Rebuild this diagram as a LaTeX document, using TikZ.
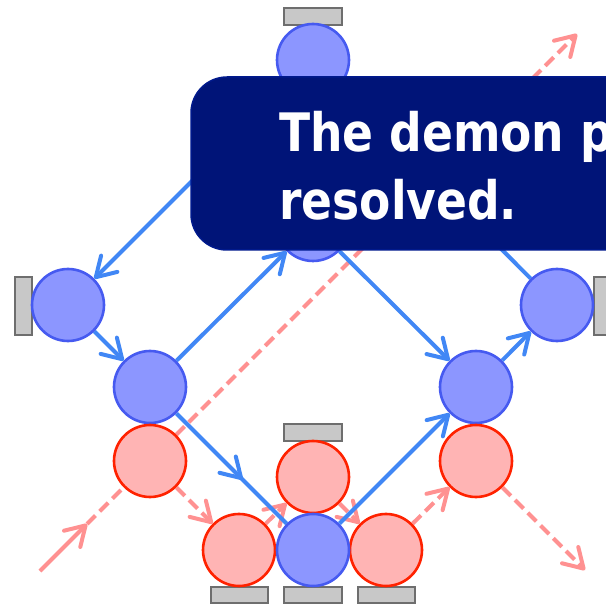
\documentclass[tikz,border=0pt]{standalone}
\usepackage{fontspec}
\newfontfamily\calloutfont{DejaVu Sans}[FakeStretch=0.86]
\usetikzlibrary{arrows.meta,decorations.markings,backgrounds}
\definecolor{bluefill}{RGB}{140,150,255}
\definecolor{blueborder}{RGB}{70,90,240}
\definecolor{blueline}{RGB}{65,135,245}
\definecolor{redfill}{RGB}{255,180,180}
\definecolor{redborder}{RGB}{255,34,0}
\definecolor{redline}{RGB}{255,145,145}
\definecolor{mirrorfill}{RGB}{200,200,200}
\definecolor{mirrorborder}{RGB}{110,110,110}
\definecolor{calloutfill}{RGB}{0,20,120}
\definecolor{calloutborder}{RGB}{0,25,140}
\tikzset{
  bartip/.tip={Straight Barb[length=19pt,width=23pt,line width=4pt,round]},
  bluec/.style={circle,draw=blueborder,fill=bluefill,line width=2.6pt,minimum size=72pt,inner sep=0pt},
  redc/.style={circle,draw=redborder,fill=redfill,line width=2.6pt,minimum size=72pt,inner sep=0pt},
  blueray/.style={draw=blueline,line width=4pt,-bartip},
  bluebare/.style={draw=blueline,line width=4pt},
  redray/.style={draw=redline,line width=4pt,dash pattern=on 12pt off 6pt,-bartip},
  redsolid/.style={draw=redline,line width=4pt,-bartip},
  mirrorbox/.style={draw=mirrorborder,fill=mirrorfill,line width=1.6pt},
  calloutbox/.style={draw=calloutborder,fill=calloutfill,line width=1.5pt,rounded corners=36pt},
  callouttext/.style={anchor=base west,text=white,inner sep=0pt,font=\calloutfont\bfseries\fontsize{53}{68}\selectfont},
  midarrow/.style={postaction={decorate},decoration={markings,mark=at position 0.6 with {\arrow{bartip}}}}
}
\begin{document}
\begin{tikzpicture}[x=1pt,y=-1pt]
\useasboundingbox (0,0) rectangle (606,604);
\clip (0,0) rectangle (606,604);
% mirrors
\draw[mirrorbox] (284,8) rectangle (342,25);
\draw[mirrorbox] (15,277) rectangle (32,335);
\draw[mirrorbox] (594,277) rectangle (612,335);
\draw[mirrorbox] (284,424) rectangle (342,441);
\draw[mirrorbox] (211,587) rectangle (268,603);
\draw[mirrorbox] (284,587) rectangle (342,603);
\draw[mirrorbox] (358,587) rectangle (415,603);
% circles
\node[bluec] (top) at (313,60) {};
\node[bluec] (ctr) at (313,225) {};
\node[bluec] (lft) at (68,305) {};
\node[bluec] (rgt) at (557,305) {};
\node[bluec] (lm) at (150,387) {};
\node[bluec] (rm) at (476,387) {};
\node[redc] (rl) at (150,461) {};
\node[redc] (rr) at (476,461) {};
\node[redc] (rt) at (313,477) {};
\node[redc] (rbl) at (239,550) {};
\node[redc] (rbr) at (386,550) {};
\node[bluec] (bot) at (313,550) {};
\coordinate (start) at (40,571);
\coordinate (entry) at (87,524);
\coordinate (exit1) at (577,34);
\coordinate (exit2) at (585,570);
% connectors behind the circles
\begin{scope}[on background layer]
  % red (light) path
  \draw[redsolid] (start) -- (entry);
  \draw[redray] (entry) -- (exit1);
  \draw[redray] (rl) -- (rbl);
  \draw[redray] (rbl) -- (rt);
  \draw[redray] (rt) -- (rbr);
  \draw[redray] (rbr) -- (rr);
  \draw[redray] (rr) -- (exit2);
  % blue paths
  \draw[blueray] (top) -- (lft);
  \draw[bluebare] (rgt) -- (top);
  \draw[blueray] (lft) -- (lm);
  \draw[blueray] (lm) -- (ctr);
  \draw[bluebare,midarrow] (lm) -- (bot);
  \draw[blueray] (bot) -- (rm);
  \draw[blueray] (ctr) -- (rm);
  \draw[blueray] (rm) -- (rgt);
\end{scope}
% callout
\draw[calloutbox] (191,77) rectangle (660,250);
\node[callouttext] (line1) at (279,152) {The demon paradox};
\node[callouttext] (line2) at (279,220) {resolved.};
\end{tikzpicture}
\end{document}
